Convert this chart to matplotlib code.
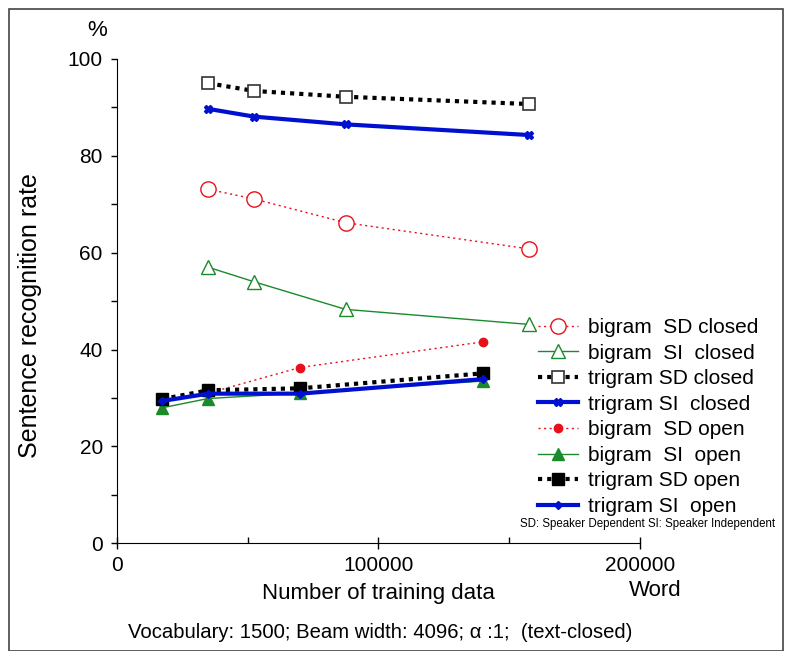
import matplotlib
matplotlib.use("Agg")
import matplotlib.pyplot as plt
from matplotlib.patches import Rectangle
from matplotlib.ticker import MultipleLocator, FixedLocator

plt.rcParams['font.family'] = ['Liberation Sans', 'DejaVu Sans']

# Training data sizes (words)
x_closed = [35000, 52500, 87500, 157500]
x_open = [17500, 35000, 70000, 140000]

# Sentence recognition rate (%)
bigram_sd_closed = [73.1, 71.1, 66.2, 60.8]
bigram_si_closed = [57.0, 54.0, 48.3, 45.2]
trigram_sd_closed = [95.0, 93.4, 92.2, 90.7]
trigram_si_closed = [89.7, 88.1, 86.5, 84.3]
bigram_sd_open = [29.2, 31.0, 36.3, 41.6]
bigram_si_open = [28.0, 29.9, 31.0, 33.5]
trigram_sd_open = [29.8, 31.6, 32.0, 35.1]
trigram_si_open = [29.4, 30.9, 30.9, 33.9]

labels = ["bigram  SD closed", "bigram  SI  closed", "trigram SD closed",
          "trigram SI  closed", "bigram  SD open", "bigram  SI  open",
          "trigram SD open", "trigram SI  open"]

RED = "#e8101a"
GREEN = "#1a8a2a"
BLUE = "#0010d0"

fig = plt.figure(figsize=(7.87, 6.51), dpi=100)
ax = fig.add_axes([0.1483, 0.1654, 0.6649, 0.7440])

dot_thin = (0, (1.5, 2.5))
dot_thick = (0, (1, 1.2))

ax.plot(x_closed, bigram_sd_closed, color=RED, lw=1.0, ls=dot_thin,
        marker='o', ms=11, mfc='white', mec=RED, mew=1.0, label=labels[0])
ax.plot(x_closed, bigram_si_closed, color=GREEN, lw=1.0, ls='-',
        marker='^', ms=10, mfc='white', mec=GREEN, mew=1.0, label=labels[1])
ax.plot(x_closed, trigram_sd_closed, color='black', lw=3.0, ls=dot_thick,
        marker='s', ms=9, mfc='white', mec='#333333', mew=1.2, label=labels[2])
ax.plot(x_closed, trigram_si_closed, color=BLUE, lw=3.0, ls='-',
        marker='X', ms=6, mfc=BLUE, mec=BLUE, label=labels[3])
ax.plot(x_open, bigram_sd_open, color=RED, lw=1.0, ls=dot_thin,
        marker='o', ms=6, mfc=RED, mec=RED, label=labels[4])
ax.plot(x_open, bigram_si_open, color=GREEN, lw=1.0, ls='-',
        marker='^', ms=8, mfc=GREEN, mec=GREEN, label=labels[5])
ax.plot(x_open, trigram_sd_open, color='black', lw=3.0, ls=dot_thick,
        marker='s', ms=8, mfc='black', mec='black', label=labels[6])
ax.plot(x_open, trigram_si_open, color=BLUE, lw=3.0, ls='-',
        marker='D', ms=4, mfc=BLUE, mec=BLUE, label=labels[7])

ax.set_xlim(0, 200000)
ax.set_ylim(0, 100)
for s in ('top', 'right'):
    ax.spines[s].set_visible(False)
ax.xaxis.set_major_locator(FixedLocator([0, 100000, 200000]))
ax.xaxis.set_minor_locator(FixedLocator([50000, 150000]))
ax.yaxis.set_major_locator(MultipleLocator(20))
ax.yaxis.set_minor_locator(MultipleLocator(10))
ax.tick_params(axis='both', which='both', labelsize=15, length=4, width=1)
ax.tick_params(axis='x', which='major', direction='inout', length=8, pad=5)
ax.tick_params(axis='x', which='minor', direction='in')
ax.tick_params(axis='y', which='both', direction='out', pad=6)
ax.set_xticklabels(['0', '100000', '200000'])

ax.set_ylabel("Sentence recognition rate", fontsize=18)
ax.yaxis.set_label_coords((42 - 116.7) / 523.3, (543.3 - 316) / 484.3)
ax.set_xlabel("Number of training data", fontsize=16, labelpad=6)

fig.text(97 / 787, 1 - 30 / 651, "%", fontsize=16, ha='center', va='center')
fig.text(655 / 787, 1 - 590 / 651, "Word", fontsize=16, ha='center', va='center')
fig.text(380 / 787, 1 - 632 / 651,
         "Vocabulary: 1500; Beam width: 4096; \u03b1 :1;  (text-closed)",
         fontsize=14.6, ha='center', va='center')
fig.text(775 / 787, 1 - 524 / 651,
         "SD: Speaker Dependent SI: Speaker Independent",
         fontsize=8.3, ha='right', va='center')

leg = ax.legend(loc='upper left', bbox_to_anchor=(538 / 787, 1 - 318 / 651),
                bbox_transform=fig.transFigure, frameon=False, fontsize=15,
                handlelength=1.9, handletextpad=0.5, labelspacing=0.315,
                borderpad=0, borderaxespad=0)

fig.patches.append(Rectangle((8.5 / 787, 0), (782.5 - 8.5) / 787, 1 - 9 / 651,
                             transform=fig.transFigure, fill=False,
                             edgecolor='#444444', lw=1.2))

fig.savefig("out.png", dpi=100)
